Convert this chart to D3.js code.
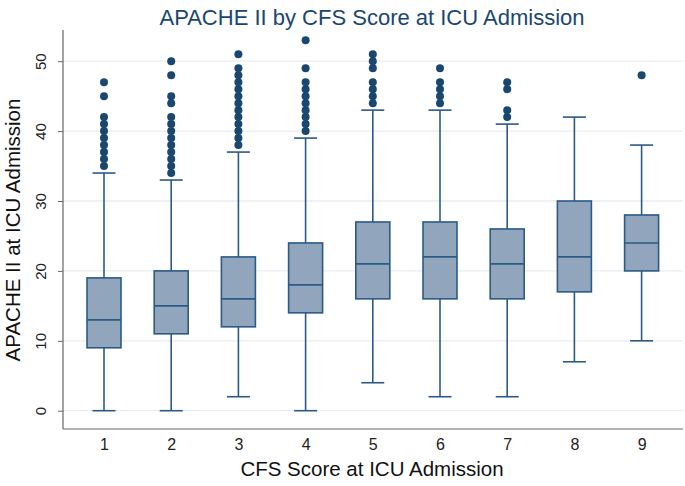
<!DOCTYPE html>
<html><head><meta charset="utf-8">
<script src="https://cdn.jsdelivr.net/npm/d3@7"></script>
<style>body{margin:0;background:#fff}svg{display:block}</style>
</head><body>
<script>
const categories = [1,2,3,4,5,6,7,8,9];
const lowWhisker = [0,0,2,0,4,2,2,7,10];
const q1 =        [9,11,12,14,16,16,16,17,20];
const median =    [13,15,16,18,21,22,21,22,24];
const q3 =        [19,20,22,24,27,27,26,30,28];
const highWhisker=[34,33,37,39,43,43,41,42,38];
const outliers = [
  [35,36,37,38,39,40,41,42,45,47],
  [34,35,36,37,38,39,40,41,42,44,45,48,50],
  [38,39,40,41,42,43,44,45,46,47,48,49,51],
  [40,41,42,43,44,45,46,47,49,53],
  [44,45,46,47,49,50,51],
  [44,45,46,47,49],
  [42,43,46,47],
  [],
  [48]
];
const yTicks = [0,10,20,30,40,50];
const titleText = "APACHE II by CFS Score at ICU Admission";
const xTitle = "CFS Score at ICU Admission";
const yTitle = "APACHE II at ICU Admission";

const W=685,H=486;
const svg=d3.select("body").append("svg").attr("width",W).attr("height",H);
const font="Arial, 'Liberation Sans', sans-serif";
const navy="#1a476f", boxStroke="#2b5a85", boxFill="#91a6bd";

const x=d3.scaleLinear().domain([1,9]).range([104,641.6]);
const y=d3.scaleLinear().domain([0,50]).range([410.7,61.2]);
const pLeft=63,pRight=683,pTop=30,pBottom=429;

// grid
svg.append("g").selectAll("line").data(yTicks).join("line")
  .attr("x1",pLeft).attr("x2",pRight).attr("y1",d=>y(d)).attr("y2",d=>y(d))
  .attr("stroke","#e6eef2").attr("stroke-width",1.3);

// y axis
const ya=svg.append("g").attr("transform",`translate(${pLeft},0)`)
  .call(d3.axisLeft(y).tickValues(yTicks).tickSize(5).tickPadding(0).tickFormat(d3.format("d")));
ya.select(".domain").remove();
ya.selectAll(".tick line").attr("stroke","#666");
ya.selectAll(".tick text").attr("font-family",font).attr("font-size",15).attr("fill","#222")
  .attr("transform","rotate(-90)").attr("x",0).attr("y",-22).attr("dy","0.35em").attr("text-anchor","middle");
svg.append("line").attr("x1",pLeft).attr("x2",pLeft).attr("y1",pTop).attr("y2",pBottom).attr("stroke","#666").attr("stroke-width",1.2);

// x axis
const xa=svg.append("g").attr("transform",`translate(0,${pBottom})`)
  .call(d3.axisBottom(x).tickValues(categories).tickSize(0).tickPadding(10).tickFormat(d3.format("d")));
xa.select(".domain").remove();
xa.selectAll(".tick text").attr("font-family",font).attr("font-size",16).attr("fill","#222");
svg.append("line").attr("x1",pLeft).attr("x2",pRight).attr("y1",pBottom).attr("y2",pBottom).attr("stroke","#666").attr("stroke-width",1.2);

// boxes
const data=categories.map((c,i)=>({c,lo:lowWhisker[i],q1:q1[i],med:median[i],q3:q3[i],hi:highWhisker[i],out:outliers[i]}));
const bw=34, cw=23;
const g=svg.append("g").selectAll("g").data(data).join("g");
g.append("line").attr("x1",d=>x(d.c)).attr("x2",d=>x(d.c)).attr("y1",d=>y(d.hi)).attr("y2",d=>y(d.q3)).attr("stroke",boxStroke).attr("stroke-width",1.6);
g.append("line").attr("x1",d=>x(d.c)).attr("x2",d=>x(d.c)).attr("y1",d=>y(d.q1)).attr("y2",d=>y(d.lo)).attr("stroke",boxStroke).attr("stroke-width",1.6);
g.append("line").attr("x1",d=>x(d.c)-cw/2).attr("x2",d=>x(d.c)+cw/2).attr("y1",d=>y(d.hi)).attr("y2",d=>y(d.hi)).attr("stroke",boxStroke).attr("stroke-width",1.6);
g.append("line").attr("x1",d=>x(d.c)-cw/2).attr("x2",d=>x(d.c)+cw/2).attr("y1",d=>y(d.lo)).attr("y2",d=>y(d.lo)).attr("stroke",boxStroke).attr("stroke-width",1.6);
g.append("rect").attr("x",d=>x(d.c)-bw/2).attr("width",bw).attr("y",d=>y(d.q3)).attr("height",d=>y(d.q1)-y(d.q3))
  .attr("fill",boxFill).attr("stroke",boxStroke).attr("stroke-width",1.6);
g.append("line").attr("x1",d=>x(d.c)-bw/2).attr("x2",d=>x(d.c)+bw/2).attr("y1",d=>y(d.med)).attr("y2",d=>y(d.med)).attr("stroke",boxStroke).attr("stroke-width",1.6);
g.selectAll("circle").data(d=>d.out.map(v=>({c:d.c,v}))).join("circle")
  .attr("cx",d=>x(d.c)).attr("cy",d=>y(d.v)).attr("r",4).attr("fill",navy);

// titles
svg.append("text").attr("x",372).attr("y",25).attr("text-anchor","middle")
  .attr("font-family",font).attr("font-size",22).attr("fill",navy).text(titleText);
svg.append("text").attr("x",372).attr("y",476).attr("text-anchor","middle")
  .attr("font-family",font).attr("font-size",20.5).attr("fill","#111").text(xTitle);
svg.append("text").attr("transform",`translate(20,230) rotate(-90)`).attr("text-anchor","middle")
  .attr("font-family",font).attr("font-size",20.5).attr("fill","#111").text(yTitle);
</script>
</body></html>
